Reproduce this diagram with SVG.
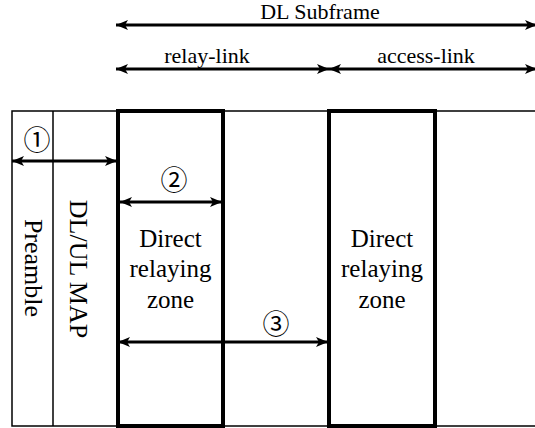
<svg xmlns="http://www.w3.org/2000/svg" width="535" height="428" viewBox="0 0 535 428">
  <style>
    .frame { fill: none; stroke: #000; stroke-width: 1.5; }
    .zone { fill: none; stroke: #000; stroke-width: 4; }
    .arr { stroke: #000; stroke-width: 3; fill: none; marker-start: url(#head); marker-end: url(#head); }
    .top { stroke-width: 2.8; }
    text { fill: #000; font-family: "Liberation Serif", "Times New Roman", serif; }
    .num { font-family: "Noto Sans CJK JP", "DejaVu Sans", sans-serif; font-size: 27px; text-anchor: middle; }
  </style>
  <defs>
    <marker id="head" viewBox="0 0 12 10" refX="12" refY="5" markerWidth="12" markerHeight="10" markerUnits="userSpaceOnUse" orient="auto-start-reverse">
      <path d="M0,0 L12,5 L0,10 L3,5 z" fill="#000"/>
    </marker>
  </defs>

  <!-- frame of the subframe -->
  <g id="frame">
    <rect class="frame" x="12" y="111" width="540" height="315"/>
    <line class="frame" x1="53" y1="111" x2="53" y2="426"/>
  </g>

  <g id="preamble">
    <text font-size="26" text-anchor="middle" transform="translate(25,268) rotate(90)">Preamble</text>
  </g>

  <g id="dlul-map">
    <text font-size="26" text-anchor="middle" transform="translate(70,269) rotate(90)">DL/UL MAP</text>
  </g>

  <g id="zone1" font-size="25" text-anchor="middle">
    <rect class="zone" x="118" y="111" width="105" height="315"/>
    <text x="170.5" y="247">Direct</text>
    <text x="170.5" y="277">relaying</text>
    <text x="170.5" y="308">zone</text>
  </g>

  <g id="zone2" font-size="25" text-anchor="middle">
    <rect class="zone" x="329" y="111" width="106" height="315"/>
    <text x="382" y="247">Direct</text>
    <text x="382" y="277">relaying</text>
    <text x="382" y="308">zone</text>
  </g>

  <!-- span arrows -->
  <g id="connectors">
    <line class="arr top" x1="116" y1="25" x2="537" y2="25"/>
    <line class="arr top" x1="116" y1="69" x2="329" y2="69"/>
    <line class="arr top" x1="329" y1="69" x2="537" y2="69"/>
    <line class="arr" x1="12" y1="161" x2="117" y2="161"/>
    <line class="arr" x1="120" y1="202" x2="222" y2="202"/>
    <line class="arr" x1="118" y1="342" x2="328" y2="342"/>
  </g>

  <g id="labels" font-size="22" text-anchor="middle">
    <text x="320" y="19">DL Subframe</text>
    <text x="207" y="63">relay-link</text>
    <text x="426" y="63">access-link</text>
  </g>
  <g id="numbers">
    <text class="num" x="37" y="150">①</text>
    <text class="num" x="174" y="190">②</text>
    <text class="num" x="276" y="334">③</text>
  </g>
</svg>
